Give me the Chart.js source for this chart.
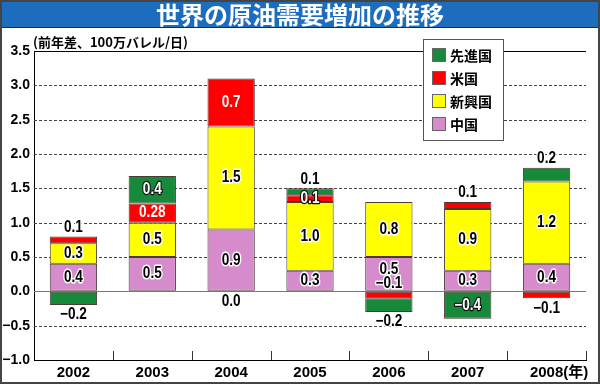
<!DOCTYPE html>
<html lang="ja">
<head>
<meta charset="utf-8">
<title>世界の原油需要増加の推移</title>
<script src="https://cdn.jsdelivr.net/npm/chart.js@4"></script>
<style>
    html, body { margin: 0; padding: 0; background: #fff; }
    #wrap { position: relative; width: 600px; height: 384px; overflow: hidden; }
    #chart { position: absolute; left: 0; top: 0; }
    #banner {
        position: absolute; left: 0; top: 0; width: 600px; height: 27px;
        background: #1d6dbf; border-bottom: 1px solid #1a2a40;
        color: #fff; font: bold 24px 'Noto Sans CJK JP', sans-serif;
        line-height: 27px; text-align: center;
    }
    #unit {
        position: absolute; left: 33px; top: 34px;
        font: bold 13px 'Noto Sans CJK JP', sans-serif; line-height: 16px; color: #000;
    }
    #frame { position: absolute; left: 0; top: 0; right: 0; bottom: 0; border: 2px solid #444; pointer-events: none; }
</style>
</head>
<body>
<div id="wrap">
    <canvas id="chart" width="600" height="384"></canvas>
    <div id="banner">世界の原油需要増加の推移</div>
    <div id="unit">(前年差、100万バレル/日)</div>
    <div id="frame"></div>
</div>
<script>
// Data (million barrels/day, change from previous year)
const years = ['2002', '2003', '2004', '2005', '2006', '2007', '2008'];
const china = [0.4, 0.5, 0.9, 0.3, 0.5, 0.3, 0.4];
const emerging = [0.3, 0.5, 1.5, 1.0, 0.8, 0.9, 1.2];
const usa = [0.1, 0.28, 0.7, 0.1, -0.1, 0.1, -0.1];
const advanced = [-0.2, 0.4, 0.0, 0.1, -0.2, -0.4, 0.2];
const yMin = -1.0;
const yMax = 3.5;
const yStep = 0.5;
const yearSuffix = '(年)';

const numFont = "'Liberation Sans', 'Noto Sans CJK JP', sans-serif";
const jpFont = "'Noto Sans CJK JP', sans-serif";

function fmt(v) {
    const d = Math.round(Math.abs(v) * 100) % 10 !== 0 ? 2 : 1;
    return (v < 0 ? '−' : '') + Math.abs(v).toFixed(d);
}

// Horizontal grid: dashed lines, solid top and zero lines
const gridLines = {
    id: 'gridLines',
    beforeDatasetsDraw(chart) {
        const { ctx, chartArea } = chart;
        const y = chart.scales.y;
        ctx.save();
        ctx.lineWidth = 1;
        y.ticks.forEach(t => {
            if (t.value === yMin) return;
            const py = Math.round(y.getPixelForValue(t.value)) + 0.5;
            if (t.value === 0) {
                ctx.setLineDash([]);
                ctx.strokeStyle = '#777';
            } else if (t.value === yMax) {
                ctx.setLineDash([]);
                ctx.strokeStyle = '#000';
            } else {
                ctx.setLineDash([3, 2]);
                ctx.strokeStyle = '#444';
            }
            ctx.beginPath();
            ctx.moveTo(chartArea.left, py);
            ctx.lineTo(chartArea.right, py);
            ctx.stroke();
        });
        ctx.restore();
    }
};

// draw text squeezed horizontally, like a condensed face
function condensedText(ctx, text, x, y, fill, stroke) {
    ctx.save();
    ctx.translate(x, y);
    ctx.scale(0.85, 1);
    if (stroke) ctx.strokeText(text, 0, 0);
    if (fill) ctx.fillText(text, 0, 0);
    ctx.restore();
}

// Value labels on each stacked segment
const segLabels = {
    id: 'segLabels',
    afterDatasetsDraw(chart) {
        const ctx = chart.ctx;
        const zero = chart.scales.y.getPixelForValue(0);
        const sets = chart.data.datasets;
        ctx.save();
        ctx.font = 'bold 16px ' + numFont;
        ctx.textAlign = 'center';
        ctx.textBaseline = 'middle';
        ctx.lineJoin = 'round';
        chart.data.labels.forEach((_, j) => {
            const items = [];
            sets.forEach((ds, i) => {
                const v = ds.data[j];
                const bar = chart.getDatasetMeta(i).data[j];
                const top = Math.min(bar.y, bar.base);
                const bottom = Math.max(bar.y, bar.base);
                const h = bottom - top;
                const later = sets.slice(i + 1).map(d => d.data[j]);
                let py, inside = false;
                if (v === 0) {
                    py = zero + 10;
                } else if (h >= 15) {
                    py = (top + bottom) / 2; inside = true;
                } else if (v > 0 && !later.some(w => w > 0)) {
                    py = top - 9;
                } else if (v < 0 && !later.some(w => w < 0)) {
                    py = bottom + 10;
                } else if (v < 0) {
                    py = zero - 8;
                } else {
                    py = (top + bottom) / 2; inside = true;
                }
                items.push({
                    text: fmt(v), x: bar.x, y: py,
                    white: inside && ds.whiteText,
                    outline: inside && ds.whiteText && (ds.darkOutline || h < 15)
                });
            });
            // keep labels in one bar from overlapping
            items.sort((a, b) => b.y - a.y);
            for (let k = 1; k < items.length; k++) {
                if (items[k - 1].y - items[k].y < 14) items[k].y = items[k - 1].y - 14;
            }
            items.forEach(it => {
                if (it.white) {
                    ctx.lineWidth = 2.5;
                    ctx.strokeStyle = '#111';
                    ctx.fillStyle = '#fff';
                    condensedText(ctx, it.text, it.x, it.y, true, it.outline);
                } else {
                    ctx.lineWidth = 3;
                    ctx.strokeStyle = '#fff';
                    ctx.fillStyle = '#000';
                    condensedText(ctx, it.text, it.x, it.y, true, true);
                }
            });
        });
        ctx.restore();
    }
};

// Small tick marks between categories, year suffix and the legend box
const extras = {
    id: 'extras',
    afterDraw(chart) {
        const { ctx, chartArea } = chart;
        const x = chart.scales.x;
        const half = (x.getPixelForValue(1) - x.getPixelForValue(0)) / 2;
        ctx.save();
        ctx.strokeStyle = '#333';
        ctx.lineWidth = 1;
        for (let i = 0; i < years.length; i++) {
            const px = Math.round(x.getPixelForValue(i) + half) + 0.5;
            ctx.beginPath();
            ctx.moveTo(px, chartArea.bottom);
            ctx.lineTo(px, chartArea.bottom - 9);
            ctx.stroke();
        }

        ctx.font = 'bold 15px ' + numFont;
        const last = years.length - 1;
        const w = ctx.measureText(years[last]).width;
        ctx.fillStyle = '#000';
        ctx.textAlign = 'left';
        ctx.textBaseline = 'middle';
        ctx.fillText(yearSuffix, x.getPixelForValue(last) + w / 2, x.top + 13);

        // legend (reverse order of stacking)
        const lx = 423, ly = 39, lw = 80, lh = 101;
        ctx.fillStyle = '#fff';
        ctx.fillRect(lx, ly, lw, lh);
        ctx.strokeStyle = '#555';
        ctx.strokeRect(lx + 0.5, ly + 0.5, lw, lh);
        ctx.font = 'bold 14px ' + jpFont;
        const sets = chart.data.datasets.slice().reverse();
        sets.forEach((ds, k) => {
            const cy = 55 + k * 23;
            ctx.fillStyle = ds.backgroundColor;
            ctx.fillRect(432, cy - 7, 14, 14);
            ctx.strokeStyle = '#666';
            ctx.strokeRect(432.5, cy - 6.5, 13, 13);
            ctx.fillStyle = '#000';
            ctx.fillText(ds.label, 450, cy + 1);
        });
        ctx.restore();
    }
};

const barStyle = { borderColor: '#4a3a36', borderWidth: 1, borderSkipped: false, barPercentage: 0.6, categoryPercentage: 1.0 };

new Chart(document.getElementById('chart'), {
    type: 'bar',
    data: {
        labels: years,
        datasets: [
            { label: '中国', data: china, backgroundColor: '#d68ccc', ...barStyle },
            { label: '新興国', data: emerging, backgroundColor: '#ffff00', ...barStyle },
            { label: '米国', data: usa, backgroundColor: '#ff0000', whiteText: true, ...barStyle },
            { label: '先進国', data: advanced, backgroundColor: '#17893a', whiteText: true, darkOutline: true, ...barStyle }
        ]
    },
    options: {
        responsive: false,
        animation: false,
        devicePixelRatio: 1,
        layout: { autoPadding: false, padding: { top: 51, right: 14, left: 0, bottom: 0 } },
        plugins: { legend: { display: false }, tooltip: { enabled: false }, title: { display: false } },
        scales: {
            x: {
                stacked: true,
                grid: { display: true, color: 'rgba(0,0,0,0)', drawTicks: false },
                border: { display: true, color: '#000', width: 1 },
                ticks: { color: '#000', font: { family: numFont, size: 15, weight: 'bold' }, padding: 4, maxRotation: 0 },
                afterFit: s => { s.height = 24; }
            },
            y: {
                stacked: true,
                min: yMin,
                max: yMax,
                grid: { display: true, color: 'rgba(0,0,0,0)', drawTicks: false },
                border: { display: true, color: '#000', width: 1 },
                ticks: {
                    stepSize: yStep,
                    color: '#000',
                    padding: 4,
                    font: { family: numFont, size: 14, weight: 'bold' },
                    callback: v => (v < 0 ? '−' : '') + Math.abs(v).toFixed(1)
                },
                afterFit: s => { s.width = 34; }
            }
        }
    },
    plugins: [gridLines, segLabels, extras]
});
</script>
</body>
</html>
